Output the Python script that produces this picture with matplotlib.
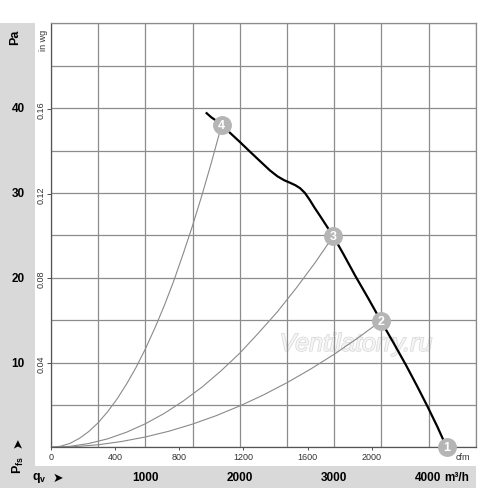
import matplotlib
matplotlib.use("Agg")
import matplotlib.pyplot as plt
import matplotlib.patheffects as pe
from matplotlib.patches import Rectangle
from matplotlib.transforms import blended_transform_factory

plt.rcParams['font.family'] = ['Liberation Sans', 'DejaVu Sans']
plt.rcParams['mathtext.fontset'] = 'custom'
plt.rcParams['mathtext.rm'] = 'Liberation Sans'
plt.rcParams['mathtext.bf'] = 'Liberation Sans:bold'

# fan curve, qv in m3/h, Pfs in Pa
fan_q = [1649, 1700, 1760, 1808, 1900, 2002, 2100, 2200, 2320, 2400, 2470, 2532, 2590, 2640,
         2690, 2740, 2790, 2850, 2920, 2991, 3100, 3225, 3360, 3496, 3630, 3761, 3880, 3990,
         4095, 4192]
fan_p = [39.4, 38.9, 38.45, 38.0, 37.05, 36.0, 34.95, 33.9, 32.65, 31.95, 31.5, 31.2, 30.9, 30.55,
         30.0, 29.2, 28.3, 27.3, 26.1, 24.9, 22.75, 20.2, 17.6, 14.9, 12.3, 9.7, 7.2, 4.8,
         2.4, 0.0]

# system curves through the operating points
sys4_q = [0, 100, 200, 300, 400, 500, 600, 700, 800, 900, 1000, 1100, 1200, 1300, 1400,
          1500, 1600, 1700, 1808]
sys4_p = [0, 0.12, 0.46, 1.05, 1.86, 2.9, 4.2, 5.7, 7.45, 9.4, 11.6, 14.05, 16.7, 19.6, 22.8,
          26.15, 29.75, 33.6, 38.0]
sys3_q = [0, 200, 400, 600, 800, 1000, 1200, 1400, 1600, 1800, 2000, 2200, 2400, 2600, 2800, 2991]
sys3_p = [0, 0.11, 0.45, 1.0, 1.78, 2.78, 4.0, 5.45, 7.1, 9.0, 11.1, 13.5, 16.0, 18.8, 21.8, 24.9]
sys2_q = [0, 250, 500, 750, 1000, 1250, 1500, 1750, 2000, 2250, 2500, 2750, 3000, 3250, 3496]
sys2_p = [0, 0.08, 0.3, 0.69, 1.22, 1.9, 2.74, 3.73, 4.88, 6.17, 7.62, 9.22, 10.97, 12.88, 14.9]

points_q = [4192, 3496, 2991, 1808]
points_p = [0.0, 14.9, 24.9, 38.0]
points_lbl = ['1', '2', '3', '4']

pa_ticks = [10, 20, 30, 40]
inwg_ticks = [0.04, 0.08, 0.12, 0.16]
cfm_ticks = [0, 400, 800, 1200, 1600, 2000]
m3h_ticks = [1000, 2000, 3000, 4000]

M3H_PER_CFM = 1.699
PA_PER_INWG = 249.09

fig = plt.figure(figsize=(5, 4.89), dpi=100)
fig.patch.set_facecolor('white')

band = '#d9d9d9'
fig.patches.append(Rectangle((0, 0), 0.07, 0.951, transform=fig.transFigure,
                             facecolor=band, edgecolor='none', zorder=0))
fig.patches.append(Rectangle((0, 0), 0.951, 0.045, transform=fig.transFigure,
                             facecolor=band, edgecolor='none', zorder=0))

ax = fig.add_axes([0.102, 0.0832, 0.8494, 0.8671])
ax.set_xlim(0, 4500)
ax.set_ylim(0, 50)
ax.set_xticks(range(0, 4501, 500))
ax.set_yticks(range(0, 51, 5))
ax.tick_params(length=0, labelbottom=False, labelleft=False)
ax.grid(True, color='#8c8c8c', lw=0.9)
for s in ax.spines.values():
    s.set_color('#8c8c8c')
    s.set_linewidth(0.9)
ax.spines['left'].set_color('#555555')
ax.spines['bottom'].set_color('#555555')

ax.text(3231, 12.2, 'Ventilatorry.ru', fontsize=18, style='italic', color='#f5f5f5',
        ha='center', va='center', zorder=1,
        path_effects=[pe.withStroke(linewidth=1.0, foreground='#d6d6d6')])

ax.plot(sys4_q, sys4_p, color='#8a8a8a', lw=0.8, zorder=2)
ax.plot(sys3_q, sys3_p, color='#8a8a8a', lw=0.8, zorder=2)
ax.plot(sys2_q, sys2_p, color='#8a8a8a', lw=0.8, zorder=2)
ax.plot(fan_q, fan_p, color='black', lw=1.6, zorder=3)

ax.scatter(points_q, points_p, s=185, color='#b5b5b5', zorder=5, clip_on=False, linewidths=0)
for q, p, t in zip(points_q, points_p, points_lbl):
    ax.text(q, p, t, color='white', fontsize=9, fontweight='bold',
            ha='center', va='center', zorder=6, clip_on=False)

# cfm scale
sec_x = ax.secondary_xaxis('bottom', functions=(lambda v: v / M3H_PER_CFM, lambda v: v * M3H_PER_CFM))
sec_x.set_xticks(cfm_ticks)
sec_x.tick_params(length=2, width=0.6, pad=1.5, labelsize=6.5, colors='#333333')
sec_x.spines['bottom'].set_visible(False)

# in wg scale
sec_y = ax.secondary_yaxis('left', functions=(lambda v: v / PA_PER_INWG, lambda v: v * PA_PER_INWG))
sec_y.set_yticks(inwg_ticks)
sec_y.set_yticklabels(['0.04', '0.08', '0.12', '0.16'], rotation=90, va='center')
sec_y.tick_params(length=3, width=0.6, pad=1.0, labelsize=6.5, colors='#333333')
sec_y.spines['left'].set_visible(False)

# Pa labels in the grey band
tr_y = blended_transform_factory(fig.transFigure, ax.transData)
for p in pa_ticks:
    fig.text(0.036, p, str(p), transform=tr_y, fontsize=8.5, fontweight='bold',
             ha='center', va='center')

# m3/h labels in the bottom band
tr_x = blended_transform_factory(ax.transData, fig.transFigure)
for q in m3h_ticks:
    fig.text(q, 0.0225, str(q), transform=tr_x, fontsize=8.5, fontweight='bold',
             ha='center', va='center')
fig.text(0.889, 0.0225, 'm³/h', fontsize=8.5, fontweight='bold', ha='left', va='center')

fig.text(0.926, 0.065, 'cfm', fontsize=6.5, color='#333333', ha='center', va='center')
fig.text(0.086, 0.918, 'in wg', fontsize=6.5, color='#333333', rotation=90, ha='center', va='center')
fig.text(0.03, 0.924, 'Pa', fontsize=9, fontweight='bold', rotation=90, ha='center', va='center')

fig.text(0.036, 0.049, r'$\mathbf{P_{fs}}$', fontsize=9, rotation=90, ha='center', va='center')
fig.text(0.036, 0.095, '➤', fontsize=9, rotation=90, ha='center', va='center', family='DejaVu Sans')
fig.text(0.078, 0.0225, r'$\mathbf{q_v}$', fontsize=9, ha='center', va='center')
fig.text(0.115, 0.0225, '➤', fontsize=9, ha='center', va='center', family='DejaVu Sans')

fig.savefig('out.png', dpi=100, facecolor='white')
